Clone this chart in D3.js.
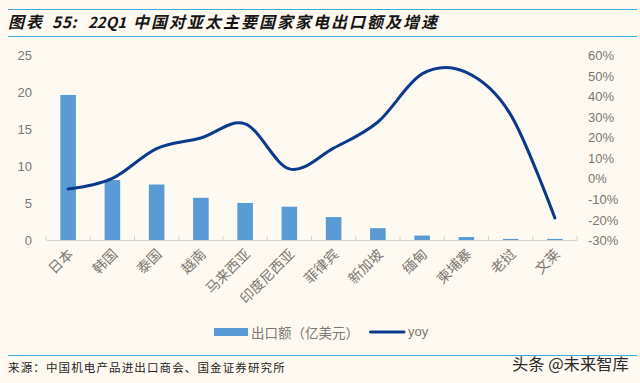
<!DOCTYPE html>
<html><head><meta charset="utf-8">
<script src="https://cdn.jsdelivr.net/npm/d3@7"></script>
<style>
html,body{margin:0;padding:0;background:#fefaf1;}
svg{display:block;}
text{font-family:"Noto Sans CJK SC","Liberation Sans",sans-serif;}
.num{font-family:"Liberation Sans",Arial,sans-serif;}
</style></head><body>
<svg id="c" width="640" height="383"></svg>
<script>
const categories=["日本","韩国","泰国","越南","马来西亚","印度尼西亚","菲律宾","新加坡","缅甸","柬埔寨","老挝","文莱"];
const exportValues=[19.6,8.1,7.5,5.7,5.0,4.5,3.1,1.6,0.6,0.4,0.15,0.15];
const yoyValues=[-5.2,0,14.5,19.6,26.5,4.6,14.7,27.4,50.8,51.5,31,-19.3];
const leftTicks=[0,5,10,15,20,25];
const rightTicks=[-30,-20,-10,0,10,20,30,40,50,60];
const titleParts=["图表","55:","22Q1","中国对亚太主要国家家电出口额及增速"];
const sourceText="来源\uFF1A中国机电产品进出口商会、国金证券研究所";
const legendLabels=["出口额\uFF08亿美元\uFF09","yoy"];
const watermark="头条 @未来智库";

const svg=d3.select("#c");
const x=d3.scaleBand().domain(categories).range([46,577]);
const yL=d3.scaleLinear().domain([0,25]).range([240,55]);
const yR=d3.scaleLinear().domain([-30,60]).range([240,55]);
const grey="#7b7772", rule="#3fa9d8";

[9.5,36.5,355.5].forEach(y=>svg.append("line").attr("x1",8).attr("x2",637).attr("y1",y).attr("y2",y).attr("stroke",rule).attr("stroke-width",1.2));
const title=svg.append("text").attr("y",28).attr("font-size",16).attr("font-weight",700).attr("font-style","italic").attr("fill","#151515");
const titleX=[8,52,88,133], titleLs=[2,0.6,0,2], titleFs=[16,15.5,15,16];
titleParts.forEach((t,i)=>title.append("tspan").attr("x",titleX[i]).attr("letter-spacing",titleLs[i]).attr("font-size",titleFs[i]).text(t));
svg.append("text").attr("x",8).attr("y",372).attr("font-size",11.5).attr("letter-spacing",1.13).attr("fill","#222").text(sourceText);

svg.selectAll("rect.bar").data(categories).join("rect").attr("class","bar")
 .attr("x",d=>x(d)+x.bandwidth()/2-7.8).attr("width",15.6)
 .attr("y",(d,i)=>yL(exportValues[i])).attr("height",(d,i)=>240-yL(exportValues[i]))
 .attr("fill","#5b9bd5");

const ax=svg.append("g").attr("transform","translate(0,240)").call(d3.axisBottom(x).tickValues([]).tickSize(0));
ax.select(".domain").attr("stroke","#d5d2cb");
const edges=d3.range(categories.length+1).map(i=>46+i*x.bandwidth());
svg.selectAll("line.tk").data(edges).join("line").attr("class","tk").attr("x1",d=>d).attr("x2",d=>d).attr("y1",240).attr("y2",236).attr("stroke","#d5d2cb");

svg.selectAll("text.cat").data(categories).join("text").attr("class","cat")
 .attr("text-anchor","end").attr("font-size",14).attr("fill",grey)
 .attr("transform",d=>`translate(${x(d)+x.bandwidth()/2+6},${255}) rotate(-45)`).text(d=>d);

const gl=svg.append("g").attr("transform","translate(32,0)").call(d3.axisLeft(yL).tickValues(leftTicks).tickSize(0));
const gr=svg.append("g").attr("transform","translate(588,0)").call(d3.axisRight(yR).tickValues(rightTicks).tickSize(0).tickFormat(d=>d+"%"));
[gl,gr].forEach(g=>{g.select(".domain").remove();g.selectAll("text").attr("class","num").attr("font-size",13).attr("fill",grey).attr("x",0).attr("dy","0.35em");});
gl.selectAll("text").attr("text-anchor","end");
gr.selectAll("text").attr("text-anchor","start");

const line=d3.line().x((d,i)=>x(categories[i])+x.bandwidth()/2).y(d=>yR(d)).curve(d3.curveCardinal.tension(0));
svg.append("path").attr("d",line(yoyValues)).attr("fill","none").attr("stroke","#0b3a8c").attr("stroke-width",3).attr("stroke-linecap","round");

svg.append("rect").attr("x",214).attr("y",328).attr("width",34).attr("height",8).attr("fill","#5b9bd5");
svg.append("text").attr("x",251).attr("y",338).attr("font-size",13.5).attr("fill",grey).text(legendLabels[0]);
svg.append("line").attr("x1",370.5).attr("x2",404).attr("y1",332).attr("y2",332).attr("stroke","#0b3a8c").attr("stroke-width",3).attr("stroke-linecap","round");
svg.append("text").attr("class","num").attr("x",408).attr("y",336).attr("font-size",13).attr("fill",grey).text(legendLabels[1]);

svg.append("text").attr("x",512).attr("y",370).attr("font-size",16.3).attr("fill","#2a2a2a").text(watermark);
</script>
</body></html>
